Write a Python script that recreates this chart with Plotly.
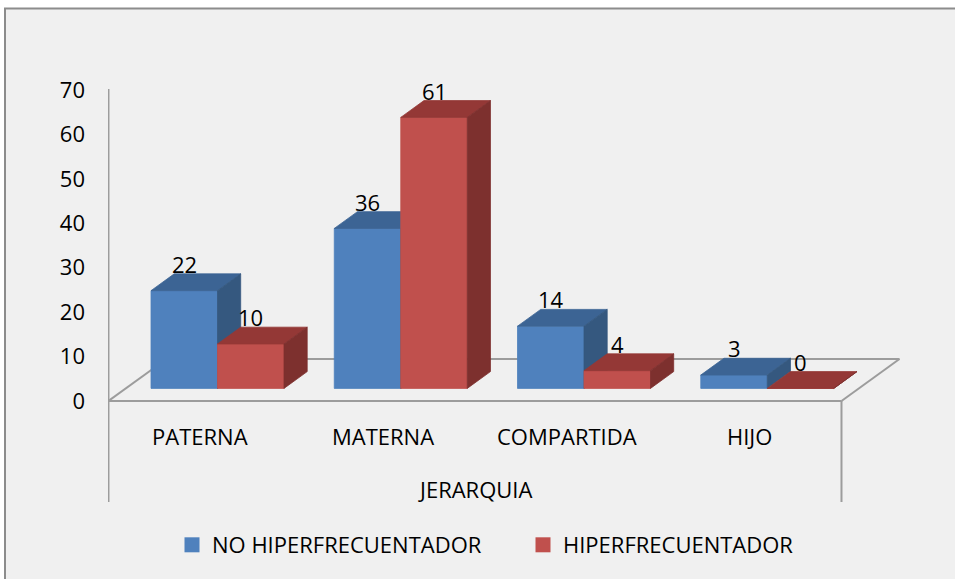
import plotly.graph_objects as go

# ---------------- data ----------------
categories = ["PATERNA", "MATERNA", "COMPARTIDA", "HIJO"]
no_hiper = [22, 36, 14, 3]
hiper = [10, 61, 4, 0]
series_names = ["NO HIPERFRECUENTADOR", "HIPERFRECUENTADOR"]
y_ticks = [0, 10, 20, 30, 40, 50, 60, 70]
axis_title = "JERARQUIA"

# ---------------- styling / geometry ----------------
FONT = "Open Sans"
FS = 22
W, H = 955, 579
L = 108
PX0, PXU = 200.1, 183.25   # pixel x of category 0 centre, px per category
PY0, PYU = 401.0, 4.443    # pixel y of value 0, px per value unit

FRONT = ["#4F81BD", "#C0504D"]
TOP = ["#3C6494", "#943836"]
SIDE = ["#35587F", "#7D302E"]
GRID = "#9C9C9C"


def xd(px):
    return (px - PX0) / PXU


def yd(py):
    return (PY0 - py) / PYU


BAR_W = 66.5 / PXU
DEPTH_X = 58 / PXU
DEPTH_Y = 42 / PYU
F0, F1 = 0.3, 0.7
fx, fy = F0 * DEPTH_X, F0 * DEPTH_Y
bx, by = F1 * DEPTH_X, F1 * DEPTH_Y

fig = go.Figure()


def add_poly(polys, color):
    xs, ys = [], []
    for p in polys:
        for (a, b) in p:
            xs.append(a)
            ys.append(b)
        xs.append(p[0][0])
        ys.append(p[0][1])
        xs.append(None)
        ys.append(None)
    fig.add_trace(go.Scatter(x=xs, y=ys, mode="lines", fill="toself",
                             fillcolor=color, line=dict(width=0.8, color=color),
                             hoverinfo="skip", showlegend=False))


labels = []
for s, vals in enumerate([no_hiper, hiper]):
    fronts, tops, sides = [], [], []
    for i, v in enumerate(vals):
        c = i + fx
        xl = c - BAR_W + s * BAR_W
        xr = xl + BAR_W
        fronts.append([(xl, fy), (xr, fy), (xr, fy + v), (xl, fy + v)])
        tops.append([(xl, fy + v), (xr, fy + v), (xr - fx + bx, by + v), (xl - fx + bx, by + v)])
        sides.append([(xr, fy), (xr - fx + bx, by), (xr - fx + bx, by + v), (xr, fy + v)])
        labels.append(dict(x=(xl + xr) / 2, y=by + v, text=str(v), showarrow=False,
                           yanchor="middle", xanchor="center", yshift=10,
                           font=dict(family=FONT, size=FS, color="#000000")))
    add_poly(fronts, FRONT[s])
    add_poly(tops, TOP[s])
    add_poly(sides, SIDE[s])

for s in range(2):
    fig.add_trace(go.Scatter(x=[None], y=[None], mode="markers", name=series_names[s],
                             marker=dict(symbol="square", size=15, color=FRONT[s],
                                         line=dict(width=0))))

annotations = list(labels)
for i, cat in enumerate(categories):
    annotations.append(dict(x=i, y=yd(436), text=cat, showarrow=False,
                            xanchor="center", yanchor="middle",
                            font=dict(family=FONT, size=FS, color="#000000")))
annotations.append(dict(x=(len(categories) - 1) / 2, y=yd(489), text=axis_title,
                        showarrow=False, xanchor="center", yanchor="middle",
                        font=dict(family=FONT, size=FS, color="#000000")))

PW = W - L


def xp(px):
    return (px - L) / PW


def yp(py):
    return 1 - py / H


xl0, xr0 = -0.5, len(categories) - 0.5
shapes = [
    dict(type="rect", xref="paper", yref="paper", x0=xp(5), y0=yp(8.5), x1=xp(W + 20), y1=yp(H + 20),
         line=dict(color="#8C8C8C", width=2), fillcolor="#F0F0F0", layer="below"),
    dict(type="line", xref="x", yref="y", x0=xl0, y0=0, x1=xl0, y1=yd(89),
         line=dict(color=GRID, width=2), layer="below"),
    dict(type="line", xref="x", yref="y", x0=xl0, y0=0, x1=xr0, y1=0,
         line=dict(color=GRID, width=2), layer="below"),
    dict(type="line", xref="x", yref="y", x0=xr0, y0=0, x1=xr0 + DEPTH_X, y1=DEPTH_Y,
         line=dict(color=GRID, width=2), layer="below"),
    dict(type="line", xref="x", yref="y", x0=xl0 + DEPTH_X, y0=DEPTH_Y, x1=xr0 + DEPTH_X, y1=DEPTH_Y,
         line=dict(color=GRID, width=2), layer="below"),
    dict(type="line", xref="x", yref="y", x0=xl0, y0=0, x1=xl0 + DEPTH_X, y1=DEPTH_Y,
         line=dict(color=GRID, width=2), layer="below"),
    dict(type="line", xref="x", yref="y", x0=xl0, y0=0, x1=xl0, y1=yd(502),
         line=dict(color=GRID, width=2), layer="below"),
    dict(type="line", xref="x", yref="y", x0=xr0, y0=0, x1=xr0, y1=yd(502),
         line=dict(color=GRID, width=2), layer="below"),
]

fig.update_layout(
    width=W, height=H, autosize=False,
    margin=dict(l=L, r=0, t=0, b=0),
    paper_bgcolor="#FFFFFF", plot_bgcolor="rgba(0,0,0,0)",
    font=dict(family=FONT, size=FS, color="#000000"),
    xaxis=dict(range=[xd(L), xd(W)], visible=False, fixedrange=True),
    yaxis=dict(range=[yd(H), yd(0)], tickvals=y_ticks, ticktext=[str(t) for t in y_ticks],
               showgrid=False, zeroline=False, showline=False, ticks="",
               tickfont=dict(family=FONT, size=FS, color="#000000"),
               ticklabelstandoff=22, fixedrange=True),
    showlegend=True,
    legend=dict(orientation="h", x=xp(172), xanchor="left", y=yp(545), yanchor="middle",
                font=dict(family=FONT, size=FS, color="#000000"),
                bgcolor="rgba(0,0,0,0)", entrywidth=306, entrywidthmode="pixels"),
    annotations=annotations,
    shapes=shapes,
)

fig.write_html("out.html", config={"displayModeBar": False},
               post_script="document.body.style.margin='0';")
